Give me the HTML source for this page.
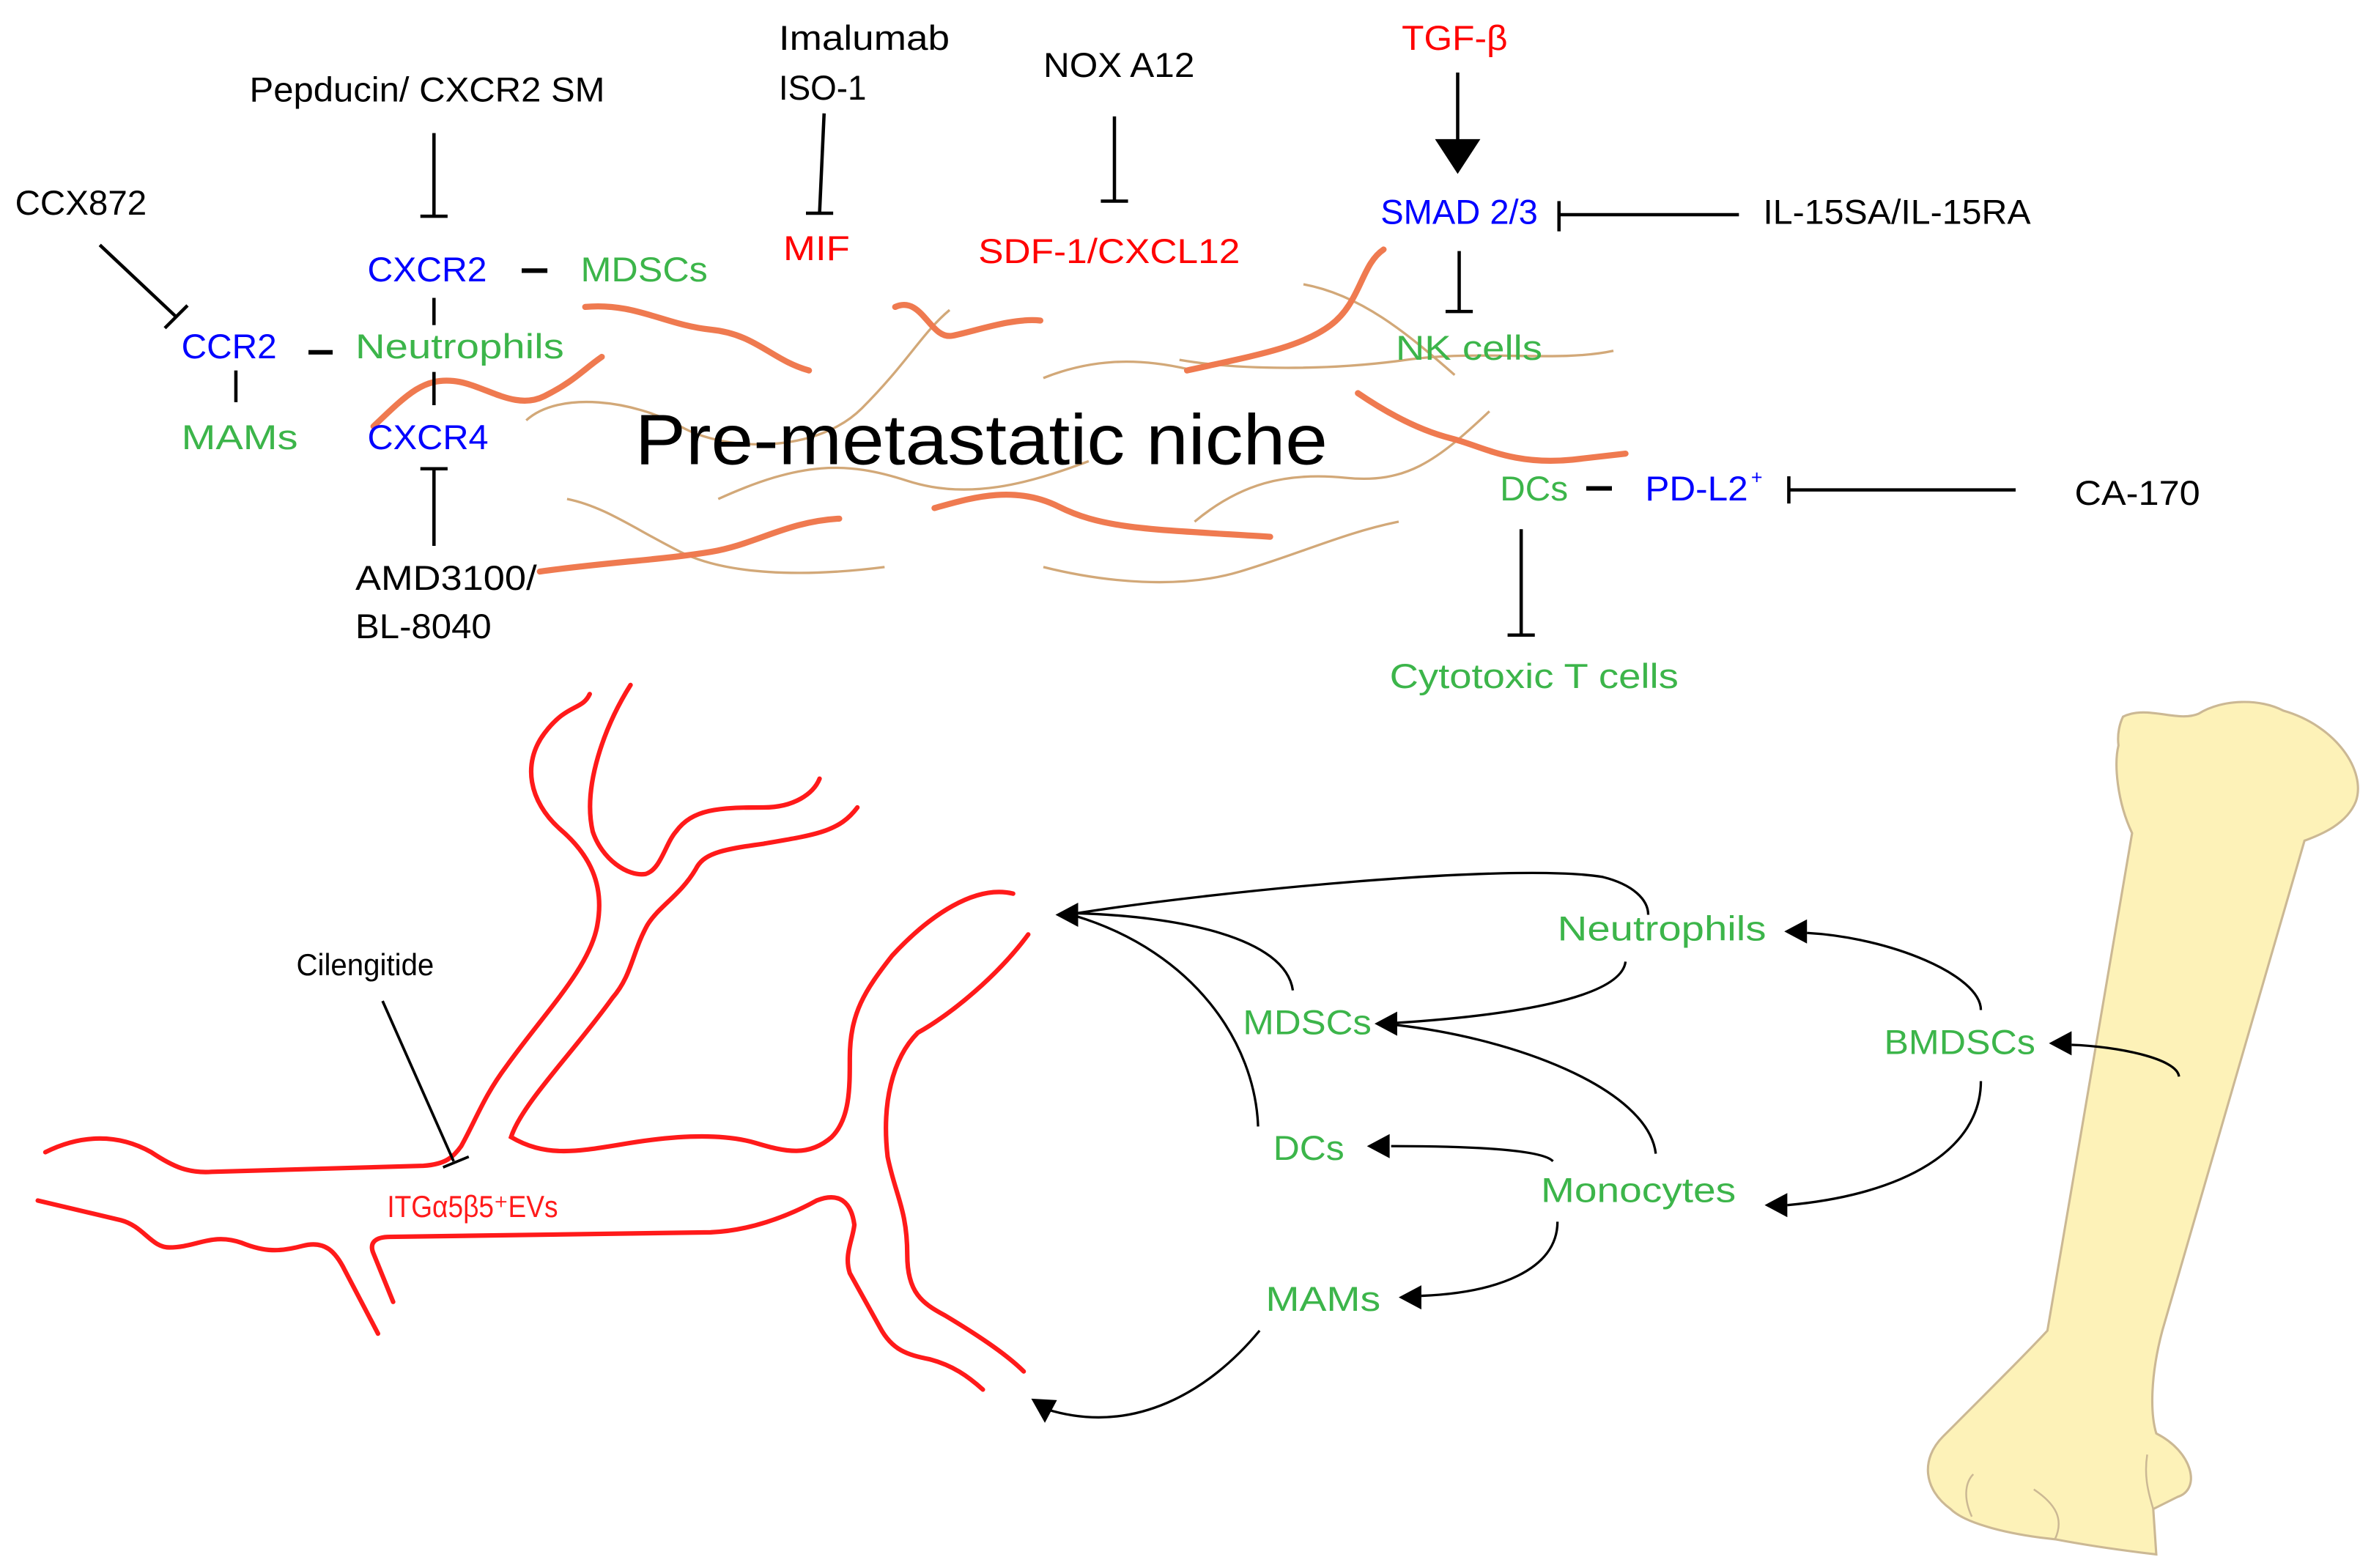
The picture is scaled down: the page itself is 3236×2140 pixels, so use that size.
<!DOCTYPE html>
<html><head><meta charset="utf-8"><style>
html,body{margin:0;padding:0;background:#fff;}
svg{display:block;}
text{font-family:"Liberation Sans",sans-serif;}
</style></head><body>
<svg width="3236" height="2140" viewBox="0 0 1568 1037" preserveAspectRatio="none" xmlns="http://www.w3.org/2000/svg">
<rect width="1568" height="1037" fill="#fff"/>
<g fill="none" stroke="#d2a878" stroke-width="1.6">
<path d="M348,278 C370,258 420,265 450,282 S540,300 570,270 S610,220 628,205"/>
<path d="M475,330 C530,305 560,305 600,318 S680,320 720,305"/>
<path d="M375,330 C400,335 420,350 450,365 S530,382 585,375"/>
<path d="M690,375 C730,385 780,390 820,378 S890,352 925,345"/>
<path d="M790,345 C820,320 850,312 890,316 S950,305 985,272"/>
<path d="M780,238 C820,245 880,245 930,238 S1030,240 1067,232"/>
<path d="M862,188 C900,195 930,220 962,248"/>
<path d="M690,250 C720,238 750,236 785,244"/>
</g>
<g fill="none" stroke="#ef7a50" stroke-width="4" stroke-linecap="round">
<path d="M387,203 C420,200 440,215 470,218 S510,238 535,245"/>
<path d="M247,282 C270,260 280,250 300,252 S340,272 360,262 S385,245 398,236"/>
<path d="M592,203 C610,195 615,225 630,222 S670,210 688,212"/>
<path d="M785,245 C830,235 860,230 880,215 S900,175 915,165"/>
<path d="M898,260 C920,275 940,285 960,290 S1000,308 1040,304 L1075,300"/>
<path d="M357,378 C400,372 440,370 470,365 S520,345 555,343"/>
<path d="M618,336 C640,330 670,320 700,335 S760,350 840,355"/>
</g>
<g stroke="#000" stroke-width="2.2" fill="none">
<line x1="66" y1="162" x2="117" y2="210"/><line x1="109" y1="217" x2="124" y2="202"/>
<line x1="287" y1="88" x2="287" y2="143"/><line x1="278" y1="143" x2="296" y2="143"/>
<line x1="545" y1="75" x2="542" y2="141"/><line x1="533" y1="141" x2="551" y2="141"/>
<line x1="737" y1="77" x2="737" y2="133"/><line x1="728" y1="133" x2="746" y2="133"/>
<line x1="964" y1="48" x2="964" y2="95"/>
<line x1="1031" y1="133" x2="1031" y2="153"/><line x1="1031" y1="142" x2="1150" y2="142"/>
<line x1="965" y1="166" x2="965" y2="206"/><line x1="956" y1="206" x2="974" y2="206"/>
<line x1="1183" y1="315" x2="1183" y2="333"/><line x1="1183" y1="324" x2="1333" y2="324"/>
<line x1="1006" y1="350" x2="1006" y2="420"/><line x1="997" y1="420" x2="1015" y2="420"/>
<line x1="287" y1="361" x2="287" y2="310"/><line x1="278" y1="310" x2="296" y2="310"/>
<line x1="287" y1="197" x2="287" y2="215"/><line x1="287" y1="246" x2="287" y2="268"/>
<line x1="156" y1="245" x2="156" y2="266"/>
</g>
<g stroke="#000" stroke-width="3">
<line x1="345" y1="179" x2="362" y2="179"/><line x1="204" y1="233" x2="220" y2="233"/><line x1="1049" y1="323" x2="1066" y2="323"/>
</g>
<polygon points="949,92 979,92 964,115" fill="#000"/>
<g font-size="23">
<text x="10" y="142" textLength="87" lengthAdjust="spacingAndGlyphs">CCX872</text>
<text x="165" y="67" textLength="235" lengthAdjust="spacingAndGlyphs">Pepducin/ CXCR2 SM</text>
<text x="515" y="33" textLength="113" lengthAdjust="spacingAndGlyphs">Imalumab</text>
<text x="515" y="66" textLength="58" lengthAdjust="spacingAndGlyphs">ISO-1</text>
<text x="690" y="51" textLength="100" lengthAdjust="spacingAndGlyphs">NOX A12</text>
<text x="927" y="33" fill="#ff0000" textLength="70" lengthAdjust="spacingAndGlyphs">TGF-β</text>
<text x="243" y="186" fill="#0000ff" textLength="79" lengthAdjust="spacingAndGlyphs">CXCR2</text>
<text x="384" y="186" fill="#3cb54a" textLength="84" lengthAdjust="spacingAndGlyphs">MDSCs</text>
<text x="120" y="237" fill="#0000ff" textLength="63" lengthAdjust="spacingAndGlyphs">CCR2</text>
<text x="235" y="237" fill="#3cb54a" textLength="138" lengthAdjust="spacingAndGlyphs">Neutrophils</text>
<text x="120" y="297" fill="#3cb54a" textLength="77" lengthAdjust="spacingAndGlyphs">MAMs</text>
<text x="243" y="297" fill="#0000ff" textLength="80" lengthAdjust="spacingAndGlyphs">CXCR4</text>
<text x="518" y="172" fill="#ff0000" textLength="44" lengthAdjust="spacingAndGlyphs">MIF</text>
<text x="647" y="174" fill="#ff0000" textLength="173" lengthAdjust="spacingAndGlyphs">SDF-1/CXCL12</text>
<text x="913" y="148" fill="#0000ff" textLength="104" lengthAdjust="spacingAndGlyphs">SMAD 2/3</text>
<text x="1166" y="148" textLength="177" lengthAdjust="spacingAndGlyphs">IL-15SA/IL-15RA</text>
<text x="923" y="238" fill="#3cb54a" textLength="97" lengthAdjust="spacingAndGlyphs">NK cells</text>
<text x="992" y="331" fill="#3cb54a" textLength="45" lengthAdjust="spacingAndGlyphs">DCs</text>
<text x="1088" y="331" fill="#0000ff" textLength="68" lengthAdjust="spacingAndGlyphs">PD-L2</text>
<text x="1158" y="320" fill="#0000ff" font-size="13">+</text>
<text x="1372" y="334" textLength="83" lengthAdjust="spacingAndGlyphs">CA-170</text>
<text x="919" y="455" fill="#3cb54a" textLength="191" lengthAdjust="spacingAndGlyphs">Cytotoxic T cells</text>
<text x="235" y="390" textLength="120" lengthAdjust="spacingAndGlyphs">AMD3100/</text>
<text x="235" y="422" textLength="90" lengthAdjust="spacingAndGlyphs">BL-8040</text>
</g>
<text x="420" y="307" font-size="47" textLength="458" lengthAdjust="spacingAndGlyphs">Pre-metastatic niche</text>
<g fill="none" stroke="#ff1a1a" stroke-width="3" stroke-linecap="round">
<path d="M30,762 C50,752 75,748 100,762 C115,772 125,776 140,775 L280,771 C295,770 300,765 305,758 C315,740 320,725 335,705 C360,670 390,640 395,612 C400,585 390,565 370,548 C350,530 345,505 360,485 C375,465 385,470 390,459"/>
<path d="M417,453 C400,480 385,520 392,550 C398,568 415,580 427,578 C437,575 440,558 447,550 C458,535 475,534 505,534 C525,534 538,525 542,515"/>
<path d="M567,534 C555,550 540,552 505,558 C475,562 465,565 460,575 C450,592 435,600 428,612 C418,630 418,645 405,660 C380,695 345,730 338,752 C360,765 380,762 410,757 C450,750 480,750 500,756 C520,762 535,765 550,752 C562,740 562,720 562,700 C562,670 572,655 590,632 C615,605 645,585 670,591"/>
<path d="M260,861 L247,829 C244,822 248,818 258,818 L470,815 C495,814 520,805 540,794 C555,788 563,795 565,810 C564,820 558,830 562,842 L582,878 C590,893 600,896 615,899 C630,903 640,910 650,919"/>
<path d="M680,618 C660,645 630,670 607,683 C590,700 583,730 587,765 C592,790 600,800 600,830 C600,855 610,862 625,870 C645,882 665,895 677,907"/>
<path d="M25,794 L80,807 C95,811 100,825 112,825 C130,825 140,815 160,822 C175,828 185,828 200,824 C215,820 222,828 228,840 L250,882"/>
</g>
<g stroke="#000" stroke-width="1.8"><line x1="253" y1="662" x2="300" y2="768"/><line x1="293" y1="772" x2="310" y2="765"/></g>
<text x="196" y="645" font-size="20" textLength="91" lengthAdjust="spacingAndGlyphs">Cilengitide</text>
<text x="256" y="805" font-size="20" fill="#ff1a1a" textLength="113" lengthAdjust="spacingAndGlyphs">ITGα5β5⁺EVs</text>
<path d="M1404,474 C1420,466 1440,478 1454,472 C1470,462 1495,462 1510,470 C1545,480 1565,510 1558,530 C1552,545 1535,552 1524,556 L1430,880 C1422,910 1422,935 1426,948 C1450,960 1456,985 1440,990 L1424,998 L1426,1028 C1400,1025 1380,1022 1359,1018 C1330,1015 1300,1008 1290,998 C1272,985 1270,965 1285,950 C1320,915 1340,895 1354,880 L1410,551 C1400,530 1398,505 1401,493 C1400,485 1402,478 1404,474 Z" fill="#fdf2b8" stroke="#cbb894" stroke-width="1.5"/>
<g fill="none" stroke="#cbb894" stroke-width="1.2"><path d="M1304,1003 C1298,990 1300,980 1305,975"/><path d="M1359,1018 C1365,1005 1360,995 1345,985"/><path d="M1424,998 C1420,985 1418,975 1420,962"/></g>
<g fill="none" stroke="#000" stroke-width="1.6">
<path d="M712,604 C800,590 1000,570 1060,580 C1080,585 1090,595 1090,605"/>
<path d="M712,604 C780,606 850,620 855,655"/>
<path d="M712,606 C790,630 830,690 832,745"/>
<path d="M915,677 C1000,672 1072,660 1075,636"/>
<path d="M915,677 C1000,685 1090,720 1095,763"/>
<path d="M1195,617 C1250,620 1310,645 1310,668"/>
<path d="M1370,691 C1400,692 1440,700 1441,712"/>
<path d="M1310,715 C1310,760 1260,790 1182,797"/>
<path d="M920,758 C970,758 1020,760 1027,768"/>
<path d="M1030,808 C1030,840 990,855 940,857"/>
<path d="M833,880 C800,920 750,950 692,932"/>
</g>
<g fill="#000">
<polygon points="698,605 713,597 713,613"/>
<polygon points="909,677 924,669 924,685"/>
<polygon points="1180,616 1195,608 1195,624"/>
<polygon points="1355,690 1370,682 1370,698"/>
<polygon points="1167,797 1182,789 1182,805"/>
<polygon points="904,758 919,750 919,766"/>
<polygon points="925,858 940,850 940,866"/>
<polygon points="682,925 699,926 691,941"/>
</g>
<g font-size="23" fill="#3cb54a">
<text x="1030" y="622" textLength="138" lengthAdjust="spacingAndGlyphs">Neutrophils</text>
<text x="822" y="684" textLength="85" lengthAdjust="spacingAndGlyphs">MDSCs</text>
<text x="1246" y="697" textLength="100" lengthAdjust="spacingAndGlyphs">BMDSCs</text>
<text x="842" y="767" textLength="47" lengthAdjust="spacingAndGlyphs">DCs</text>
<text x="1019" y="795" textLength="129" lengthAdjust="spacingAndGlyphs">Monocytes</text>
<text x="837" y="867" textLength="76" lengthAdjust="spacingAndGlyphs">MAMs</text>
</g>
</svg>
</body></html>
